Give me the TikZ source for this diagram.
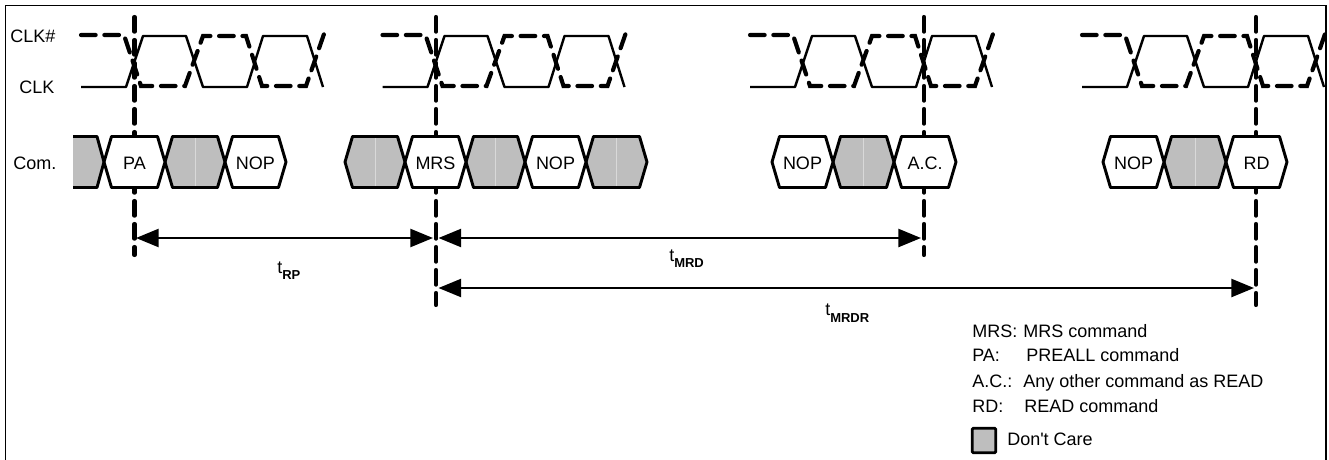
\documentclass[tikz,border=0pt]{standalone}
\usepackage{fontspec}
\setmainfont{Liberation Sans}
\usetikzlibrary{arrows.meta}
\definecolor{dontcare}{gray}{0.745}
\definecolor{seam}{gray}{0.85}
\newcommand{\tsub}[2]{t\raisebox{#1}{\fontsize{9.75}{11}\selectfont\bfseries #2}}
\tikzset{
	txt/.style={inner sep=0,font=\fontsize{13.5}{16}\selectfont},
	clksolid/.style={line width=1.8pt,line join=round},
	clkdash/.style={line width=3.1pt,line cap=round,dash pattern=on 11pt off 6.5pt},
	marker/.style={line width=3.1pt,line cap=round,dash pattern=on 11pt off 6.25pt},
	bus/.style={draw,line width=2.2pt,line join=round},
	dimline/.style={line width=1.8pt,{Triangle[length=17pt,width=13.5pt]}-{Triangle[length=17pt,width=13.5pt]}}
}
\begin{document}
\begin{tikzpicture}[x=0.75pt,y=-0.75pt]
	\useasboundingbox (0,0) rectangle (1329,460);
	\draw[line width=1.3pt] (5.5,460) -- (5.5,5.5) -- (1326,5.5) -- (1326,460);
	% row labels
	\node[txt,anchor=west] (clkn) at (10,36) {CLK\#};
	\node[txt,anchor=west] (clk) at (19,87) {CLK};
	\node[txt,anchor=west] (com) at (13,163) {Com.};
	% markers
	\coordinate (paTop) at (134.5,17);
	\coordinate (paBot) at (134.5,255);
	\coordinate (mrsTop) at (436,17);
	\coordinate (mrsBot) at (436,305);
	\coordinate (acTop) at (924,17);
	\coordinate (acBot) at (924,255);
	\coordinate (rdTop) at (1256,17);
	\coordinate (rdBot) at (1256,305);
	\draw[marker] (paTop) -- (paBot);
	\draw[marker] (mrsTop) -- (mrsBot);
	\draw[marker] (acTop) -- (acBot);
	\draw[marker] (rdTop) -- (rdBot);
	% clocks
	\foreach \o in {0,301.5,669,1001}{
		\draw[clksolid] (\o+81,87) -- (\o+126,87) -- (\o+143,36) -- (\o+186,36) -- (\o+203,87) -- (\o+247,87) -- (\o+263,36) -- (\o+307,36) -- (\o+323,87);
		\draw[clkdash] (\o+81,35) -- (\o+124,35) -- (\o+141,86) -- (\o+185,86) -- (\o+203,36) -- (\o+246,36) -- (\o+262,86) -- (\o+306,86) -- (\o+324,34);
	}
	% command bus
	\fill[dontcare] (73,136.5) -- (97,136.5) -- (104,162) -- (97,187.5) -- (73,187.5) -- cycle;
	\draw[line width=2.2pt,line join=round] (73,136.5) -- (97,136.5) -- (104,162) -- (97,187.5) -- (73,187.5);
	\foreach \l/\r in {165/225,345/405,466/525,586/647,833/894,1164/1226}{
		\draw[bus,fill=dontcare] (\l,162) -- (\l+7.5,136.5) -- (\r-7.5,136.5) -- (\r,162) -- (\r-7.5,187.5) -- (\l+7.5,187.5) -- cycle;
		\draw[seam,line width=0.6pt] ({(\l+\r)/2},138.5) -- ({(\l+\r)/2},185.5);
	}
	\foreach \l/\r/\n/\t in {104/165/pa/PA,225/286/nopa/NOP,405/466/mrs/MRS,525/586/nopb/NOP,772/833/nopc/NOP,894/956/ac/A.C.,1103/1164/nopd/NOP,1226/1287/rd/RD}{
		\draw[bus,fill=white] (\l,162) -- (\l+7.5,136.5) -- (\r-7.5,136.5) -- (\r,162) -- (\r-7.5,187.5) -- (\l+7.5,187.5) -- cycle;
		\node[txt] (\n) at ({(\l+\r)/2},163) {\t};
	}
	% timings
	\coordinate (rpL) at (136,238);
	\coordinate (rpR) at (433,238);
	\coordinate (mrdL) at (438.5,238);
	\coordinate (mrdR) at (921,238);
	\coordinate (mrdrL) at (438.5,288);
	\coordinate (mrdrR) at (1254,288);
	\draw[dimline] (rpL) -- (rpR);
	\draw[dimline] (mrdL) -- (mrdR);
	\draw[dimline] (mrdrL) -- (mrdrR);
	\node[txt,anchor=base west] (trp) at (277,273) {\tsub{-4.5pt}{RP}};
	\node[txt,anchor=base west] (tmrd) at (669,261) {\tsub{-4.5pt}{MRD}};
	\node[txt,anchor=base west] (tmrdr) at (825,315) {\tsub{-5.5pt}{MRDR}};
	% legend
	\node[txt,anchor=base west] (lgmrs) at (972,337) {\makebox[38.3pt][l]{MRS:}MRS command};
	\node[txt,anchor=base west] (lgpa) at (972,361) {\makebox[40.5pt][l]{PA:}PREALL command};
	\node[txt,anchor=base west] (lgac) at (972,387) {\makebox[38.3pt][l]{A.C.:}Any other command as READ};
	\node[txt,anchor=base west] (lgrd) at (972,412) {\makebox[39pt][l]{RD:}READ command};
	\node[draw,fill=dontcare,line width=2.1pt,rounded corners=0.8pt,inner sep=0,minimum width=17.5pt,minimum height=18.5pt] (lgbox) at (984,440.5) {};
	\node[txt,anchor=base west] (lgdc) at (1007,445) {Don\textquotesingle t Care};
\end{tikzpicture}
\end{document}
